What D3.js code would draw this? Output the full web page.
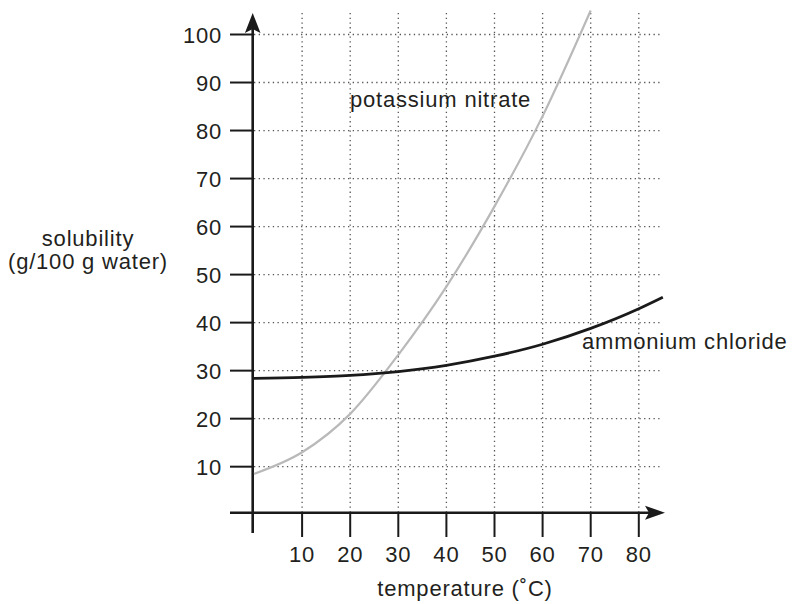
<!DOCTYPE html>
<html>
<head>
<meta charset="utf-8">
<script src="https://cdn.jsdelivr.net/npm/d3@7"></script>
<style>
    body { margin: 0; background: #fff; }
    text { font-family: "Liberation Sans", Arial, sans-serif; font-size: 22px; letter-spacing: 0.8px; fill: #231f20; }
</style>
</head>
<body>
<svg id="chart" width="794" height="604"></svg>
<script>
const temps = [0, 10, 20, 30, 40, 50, 60, 70];
const nitrate = [8.5, 13, 21, 33.3, 47.5, 64.2, 83, 105];

const chlorideTemps = [0, 10, 20, 30, 40, 50, 60, 70, 80, 85];
const chloride = [28.4, 28.6, 29.0, 29.8, 31.1, 33.0, 35.5, 38.8, 42.9, 45.3];

const xTicks = [10, 20, 30, 40, 50, 60, 70, 80];
const yTicks = [10, 20, 30, 40, 50, 60, 70, 80, 90, 100];

const Chart = {
    svg: d3.select("#chart"),
    x: d3.scaleLinear().domain([0, 85]).range([254, 254 + 85 * 4.81]),
    y: d3.scaleLinear().domain([0, 100]).range([514.7, 34.5]),

    draw() {
        this.drawGrid();
        this.drawAxes();
        this.drawCurve(temps, nitrate, "#b9b9b9", 2.2);
        this.drawCurve(chlorideTemps, chloride, "#1a1a1a", 2.8);
        this.drawLabels();
    },

    drawGrid() {
        const { svg, x, y } = this;
        const grid = svg.append("g")
            .attr("stroke", "#555")
            .attr("stroke-width", 1.3)
            .attr("stroke-dasharray", "1.3,3.4");
        grid.selectAll("line.h").data(yTicks).enter().append("line")
            .attr("x1", x(0)).attr("x2", 662)
            .attr("y1", d => y(d)).attr("y2", d => y(d));
        grid.selectAll("line.v").data(xTicks).enter().append("line")
            .attr("x1", d => x(d)).attr("x2", d => x(d))
            .attr("y1", 13).attr("y2", y(0) - 2);
    },

    drawAxes() {
        const { svg, x, y } = this;
        const ax = x(0) - 1.3;
        const ay = y(0) - 2;
        const axes = svg.append("g").attr("stroke", "#1a1a1a").attr("stroke-width", 2.6);

        // y axis with ticks
        axes.append("line").attr("x1", ax).attr("x2", ax).attr("y1", 28).attr("y2", 533);
        axes.selectAll("line.yt").data(yTicks).enter().append("line")
            .attr("x1", 230).attr("x2", ax)
            .attr("y1", d => y(d)).attr("y2", d => y(d))
            .attr("stroke-width", 2);

        // x axis with ticks
        axes.append("line").attr("x1", 230).attr("x2", 650).attr("y1", ay).attr("y2", ay);
        axes.selectAll("line.xt").data(xTicks).enter().append("line")
            .attr("x1", d => x(d)).attr("x2", d => x(d))
            .attr("y1", ay).attr("y2", 537)
            .attr("stroke-width", 2);

        // arrow heads
        svg.append("path")
            .attr("d", `M${ax},13 L${ax + 7.8},33 L${ax},29 L${ax - 7.8},33 Z`)
            .attr("fill", "#1a1a1a");
        svg.append("path")
            .attr("d", `M665,${ay} L645,${ay - 7} L649,${ay} L645,${ay + 7} Z`)
            .attr("fill", "#1a1a1a");

        svg.append("g").selectAll("text").data(yTicks).enter().append("text")
            .attr("x", 222).attr("y", d => y(d) + 8)
            .attr("text-anchor", "end")
            .text(d => d);
        svg.append("g").selectAll("text").data(xTicks).enter().append("text")
            .attr("x", d => x(d)).attr("y", 562)
            .attr("text-anchor", "middle")
            .text(d => d);
    },

    drawCurve(xs, ys, color, width) {
        const { svg, x, y } = this;
        const line = d3.line()
            .x(d => x(d[0]))
            .y(d => y(d[1]))
            .curve(d3.curveMonotoneX);
        svg.append("path")
            .datum(xs.map((t, i) => [t, ys[i]]))
            .attr("d", line)
            .attr("fill", "none")
            .attr("stroke", color)
            .attr("stroke-width", width);
    },

    drawLabels() {
        const svg = this.svg;
        svg.append("text").attr("x", 350).attr("y", 107).text("potassium nitrate");
        svg.append("text").attr("x", 582).attr("y", 349).text("ammonium chloride");
        svg.append("text").attr("x", 465).attr("y", 596).attr("text-anchor", "middle").text("temperature (˚C)");
        svg.append("text").attr("x", 88).attr("y", 246).attr("text-anchor", "middle").text("solubility");
        svg.append("text").attr("x", 88).attr("y", 269).attr("text-anchor", "middle").text("(g/100 g water)");
    }
};

Chart.draw();
</script>
</body>
</html>
